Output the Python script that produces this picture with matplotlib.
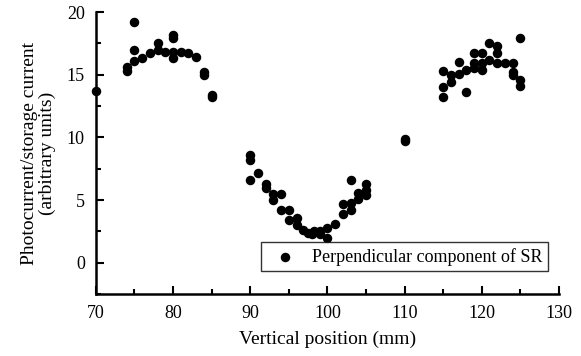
import matplotlib
matplotlib.use('Agg')
import matplotlib.pyplot as plt
from matplotlib.ticker import MultipleLocator

plt.rcParams['font.family'] = ['Liberation Serif', 'DejaVu Serif']

# Vertical position (mm) and photocurrent/storage current (arb. units)
pos = [70, 74, 74, 75, 75, 75, 76, 77, 78, 78, 79, 80, 80, 80, 80, 81, 82, 83, 84, 84, 85, 85,
       90, 90, 90, 91, 92, 92, 93, 93, 94, 94, 95, 95, 96, 96, 96.8, 97.5, 98, 98.3, 99, 99, 100, 100,
       101, 102, 102, 103, 103, 103, 104, 104, 105, 105, 105,
       110, 110,
       115, 115, 115, 116, 116, 117, 117, 118, 118, 119, 119, 119, 120, 120, 120, 121, 121,
       122, 122, 122, 123, 124, 124, 124, 125, 125, 125]
signal = [13.7, 15.6, 15.3, 19.2, 17.0, 16.1, 16.3, 16.7, 17.5, 17.0, 16.8, 18.2, 17.9, 16.8, 16.3,
          16.8, 16.7, 16.4, 15.2, 15.0, 13.4, 13.2,
          8.6, 8.2, 6.6, 7.2, 6.3, 6.0, 5.5, 5.0, 5.5, 4.2, 4.2, 3.4, 3.6, 3.0, 2.6, 2.4, 2.3, 2.5,
          2.5, 2.3, 2.8, 2.0, 3.1, 3.9, 4.7, 6.6, 4.8, 4.2, 5.6, 5.1, 6.3, 5.8, 5.4,
          9.9, 9.7,
          15.3, 14.0, 13.2, 15.0, 14.4, 16.0, 15.1, 13.6, 15.4, 16.7, 15.9, 15.5, 16.7, 15.9, 15.4,
          17.5, 16.2, 17.3, 16.7, 15.9, 15.9, 15.9, 15.2, 15.0, 17.9, 14.6, 14.1]

fig = plt.figure(figsize=(5.81, 3.56), dpi=100)
ax = fig.add_axes([0.165, 0.174, 0.797, 0.792])

ax.scatter(pos, signal, s=34, color='black', zorder=3, clip_on=False,
           label='Perpendicular component of SR')

ax.set_xlim(70, 130)
ax.set_ylim(-2.5, 20)
ax.xaxis.set_major_locator(MultipleLocator(10))
ax.xaxis.set_minor_locator(MultipleLocator(5))
ax.yaxis.set_major_locator(MultipleLocator(5))
ax.yaxis.set_minor_locator(MultipleLocator(2.5))
ax.tick_params(which='both', direction='in', width=1.5, labelsize=13, pad=8)
ax.tick_params(which='major', length=6)
ax.tick_params(which='minor', length=3.5)

ax.spines['top'].set_visible(False)
ax.spines['right'].set_visible(False)
ax.spines['left'].set_linewidth(1.8)
ax.spines['bottom'].set_linewidth(1.8)

ax.set_xlabel('Vertical position (mm)', fontsize=14, labelpad=6)
ax.set_ylabel('Photocurrent/storage current\n(arbitrary units)', fontsize=14,
              labelpad=8, linespacing=1.05)

leg = ax.legend(loc='lower right', fontsize=13, frameon=True, fancybox=False,
                edgecolor='black', borderpad=0.3, handletextpad=0.5,
                bbox_to_anchor=(0.995, 0.05))
leg.get_frame().set_linewidth(1.0)

fig.savefig('out.png', dpi=100)
